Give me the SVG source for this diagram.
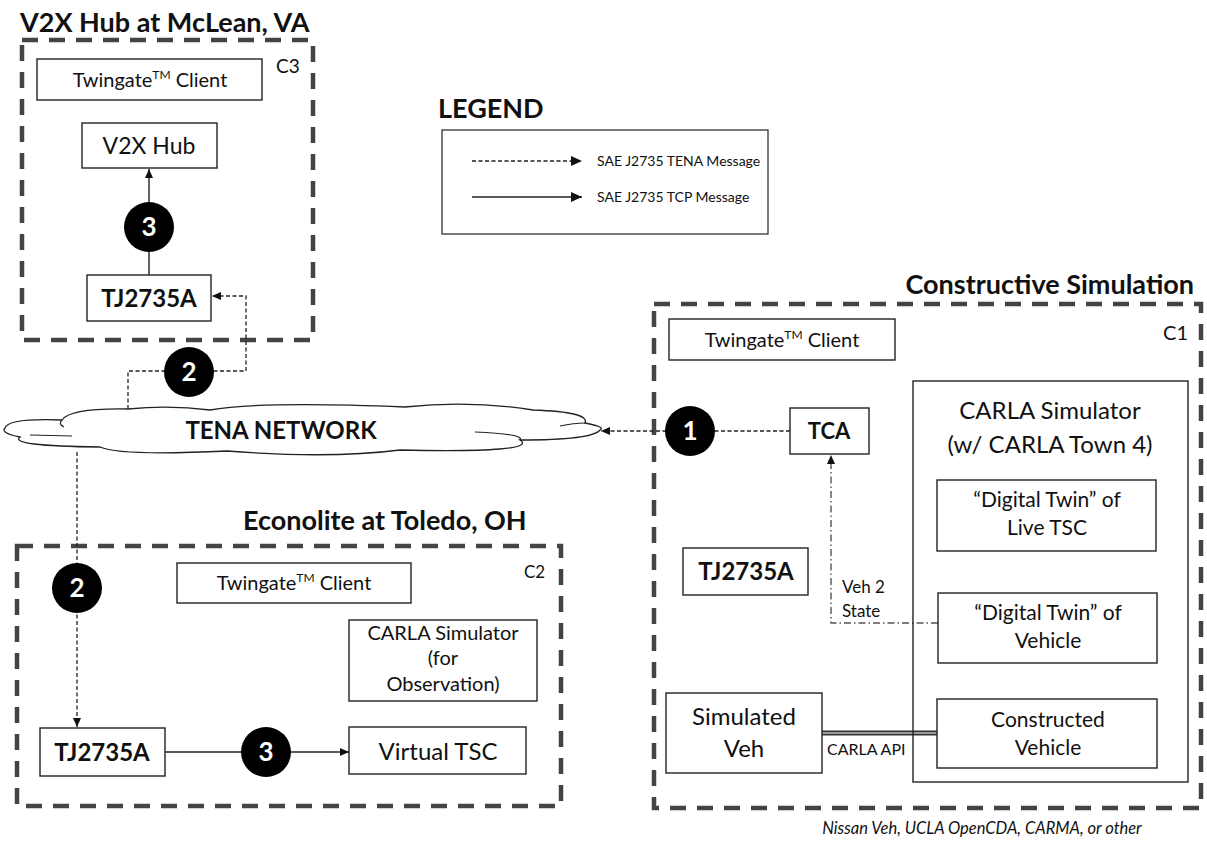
<svg xmlns="http://www.w3.org/2000/svg" width="1207" height="845" viewBox="0 0 1207 845">
<style>
  text { font-family: Lato, "Liberation Sans", sans-serif; fill: #111; }
  .title { font-weight: bold; font-size: 27px; }
  .box { fill: #fff; stroke: #222; stroke-width: 1.4; }
  .cont { fill: none; stroke: #444; stroke-width: 4.5; stroke-dasharray: 16 11; }
  .tw { font-size: 20px; text-anchor: middle; }
  .bold { font-weight: bold; }
  .mid { text-anchor: middle; }
  .dash { fill: none; stroke: #222; stroke-width: 1.3; stroke-dasharray: 4 2.5; }
  .solid { fill: none; stroke: #222; stroke-width: 1.4; }
  .dashdot { fill: none; stroke: #555; stroke-width: 1.4; stroke-dasharray: 7 3 1.5 3; }
  .num { fill: #fff; font-weight: bold; font-size: 26px; text-anchor: middle; }
  .circ { fill: #000; }
</style>
<defs>
  <marker id="arr" markerUnits="userSpaceOnUse" markerWidth="9" markerHeight="8" refX="9" refY="4" orient="auto">
    <path d="M0,0 L9,4 L0,8 Z" fill="#111"/>
  </marker>
  <marker id="arrL" markerUnits="userSpaceOnUse" markerWidth="11" markerHeight="10" refX="11" refY="5" orient="auto">
    <path d="M0,0 L11,5 L0,10 Z" fill="#111"/>
  </marker>
</defs>
<rect width="1207" height="845" fill="#fff"/>

<!-- Containers -->
<g id="c3-container">
  <text class="title" x="20" y="32">V2X Hub at McLean, VA</text>
  <rect class="cont" x="22" y="40" width="291" height="300"/>
  <text x="276" y="73" font-size="19">C3</text>
</g>
<g id="c2-container">
  <text class="title" x="243" y="530">Econolite at Toledo, OH</text>
  <rect class="cont" x="17" y="546" width="544" height="260"/>
  <text x="524" y="578" font-size="17">C2</text>
</g>
<g id="c1-container">
  <text class="title" x="1194" y="294" text-anchor="end" font-size="28">Constructive Simulation</text>
  <rect class="cont" x="654" y="304" width="547" height="504"/>
  <text x="1188" y="340" font-size="20" text-anchor="end">C1</text>
</g>

<!-- Legend -->
<g id="legend">
  <text class="title" x="438" y="118">LEGEND</text>
  <rect x="442" y="130" width="326" height="104" fill="#fff" stroke="#333" stroke-width="1.3"/>
  <line x1="472" y1="161" x2="582" y2="161" class="dash" marker-end="url(#arrL)"/>
  <text x="597" y="166" font-size="14">SAE J2735 TENA Message</text>
  <line x1="472" y1="197" x2="582" y2="197" class="solid" marker-end="url(#arrL)"/>
  <text x="597" y="202" font-size="14">SAE J2735 TCP Message</text>
</g>

<!-- Connectors -->
<g id="connectors">
  <line x1="149" y1="275" x2="149" y2="169" class="solid" marker-end="url(#arr)"/>
  <path d="M128,409 V371 H246 V296 H212" class="dash" marker-end="url(#arr)"/>
  <path d="M77,452 V727" class="dash" marker-end="url(#arr)"/>
  <path d="M790,431 H601" class="dash" marker-end="url(#arr)"/>
  <path d="M165,752 H349" class="solid" marker-end="url(#arr)"/>
  <path d="M938,623 H831 V455" class="dashdot" marker-end="url(#arr)"/>
  <g id="carla-api">
    <line x1="822" y1="733" x2="937" y2="733" stroke="#333" stroke-width="5"/>
    <line x1="822" y1="733" x2="937" y2="733" stroke="#bbb" stroke-width="1.6"/>
    <text x="827" y="755" font-size="16" fill="#222">CARLA API</text>
  </g>
  <text x="842" y="593" font-size="17">Veh 2</text>
  <text x="842" y="617" font-size="17">State</text>
</g>

<!-- TENA cloud -->
<g id="tena-network">
  <path d="M5,428 Q8,418 62,420 Q70,408 128,409 Q170,405 210,410 Q260,401 405,407 Q470,400 533,410 Q590,412 585,423 Q606,427 600,430 Q592,440 520,440 Q540,453 400,450 Q330,459 227,451 Q120,456 100,447 Q8,446 20,437 Q0,433 5,428 Z" fill="#fff" stroke="#222" stroke-width="1.3"/>
  <path d="M30,435 L72,436 M475,432 Q525,434 520,440 M560,426 Q574,423 585,423 M62,420 Q58,424 64,427" fill="none" stroke="#222" stroke-width="1.2"/>
  <text x="281" y="439" class="bold mid" font-size="24">TENA NETWORK</text>
</g>

<!-- C3 nodes -->
<g id="c3-twingate">
  <rect class="box" x="37" y="59" width="225" height="41"/>
  <text class="tw" x="150" y="87">Twingate<tspan font-size="12" dy="-8">TM</tspan><tspan dy="8"> Client</tspan></text>
</g>
<g id="c3-v2xhub">
  <rect class="box" x="82" y="123" width="135" height="45"/>
  <text class="mid" x="149" y="154" font-size="23">V2X Hub</text>
</g>
<g id="c3-tj2735a">
  <rect class="box" x="87" y="275" width="124" height="46"/>
  <text class="mid bold" x="149" y="307" font-size="24">TJ2735A</text>
</g>

<!-- C2 nodes -->
<g id="c2-twingate">
  <rect class="box" x="177" y="563" width="234" height="40"/>
  <text class="tw" x="294" y="590">Twingate<tspan font-size="12" dy="-8">TM</tspan><tspan dy="8"> Client</tspan></text>
</g>
<g id="c2-carla">
  <rect class="box" x="349" y="620" width="188" height="81"/>
  <text class="mid" x="443" y="640" font-size="20">CARLA Simulator</text>
  <text class="mid" x="443" y="665" font-size="20">(for</text>
  <text class="mid" x="443" y="691" font-size="20">Observation)</text>
</g>
<g id="c2-tj2735a">
  <rect class="box" x="40" y="728" width="125" height="48"/>
  <text class="mid bold" x="102" y="761" font-size="24">TJ2735A</text>
</g>
<g id="c2-virtual-tsc">
  <rect class="box" x="349" y="727" width="177" height="47"/>
  <text class="mid" x="438" y="760" font-size="24">Virtual TSC</text>
</g>

<!-- C1 nodes -->
<g id="c1-twingate">
  <rect class="box" x="669" y="319" width="226" height="41"/>
  <text class="tw" x="782" y="347">Twingate<tspan font-size="12" dy="-8">TM</tspan><tspan dy="8"> Client</tspan></text>
</g>
<g id="c1-tca">
  <rect class="box" x="790" y="408" width="79" height="46"/>
  <text class="mid bold" x="829" y="439" font-size="22">TCA</text>
</g>
<g id="c1-tj2735a">
  <rect class="box" x="683" y="548" width="125" height="47"/>
  <text class="mid bold" x="746" y="580" font-size="24">TJ2735A</text>
</g>
<g id="c1-simulated-veh">
  <rect class="box" x="666" y="693" width="156" height="80"/>
  <text class="mid" x="744" y="725" font-size="24">Simulated</text>
  <text class="mid" x="744" y="757" font-size="24">Veh</text>
</g>
<g id="c1-carla">
  <rect x="913" y="381" width="275" height="401" fill="none" stroke="#222" stroke-width="1.4"/>
  <text class="mid" x="1050" y="419" font-size="24">CARLA Simulator</text>
  <text class="mid" x="1050" y="453" font-size="24">(w/ CARLA Town 4)</text>
</g>
<g id="c1-dt-tsc">
  <rect class="box" x="937" y="480" width="219" height="71"/>
  <text class="mid" x="1047" y="507" font-size="21">“Digital Twin” of</text>
  <text class="mid" x="1047" y="535" font-size="21">Live TSC</text>
</g>
<g id="c1-dt-vehicle">
  <rect class="box" x="938" y="593" width="219" height="70"/>
  <text class="mid" x="1048" y="620" font-size="21">“Digital Twin” of</text>
  <text class="mid" x="1048" y="648" font-size="21">Vehicle</text>
</g>
<g id="c1-constructed-vehicle">
  <rect class="box" x="937" y="699" width="220" height="69"/>
  <text class="mid" x="1048" y="727" font-size="21">Constructed</text>
  <text class="mid" x="1048" y="755" font-size="21">Vehicle</text>
</g>
<text x="982" y="834" font-size="16.5" font-style="italic" text-anchor="middle" fill="#222">Nissan Veh, UCLA OpenCDA, CARMA, or other</text>

<!-- Step markers -->
<g id="step-3-c3"><circle class="circ" cx="149" cy="227" r="25"/><text class="num" x="149" y="236">3</text></g>
<g id="step-2-upper"><circle class="circ" cx="189" cy="372" r="25"/><text class="num" x="189" y="381">2</text></g>
<g id="step-1"><circle class="circ" cx="690" cy="431" r="25"/><text class="num" x="690" y="440">1</text></g>
<g id="step-2-lower"><circle class="circ" cx="77" cy="588" r="25"/><text class="num" x="77" y="597">2</text></g>
<g id="step-3-c2"><circle class="circ" cx="266" cy="752" r="25"/><text class="num" x="266" y="761">3</text></g>
</svg>
